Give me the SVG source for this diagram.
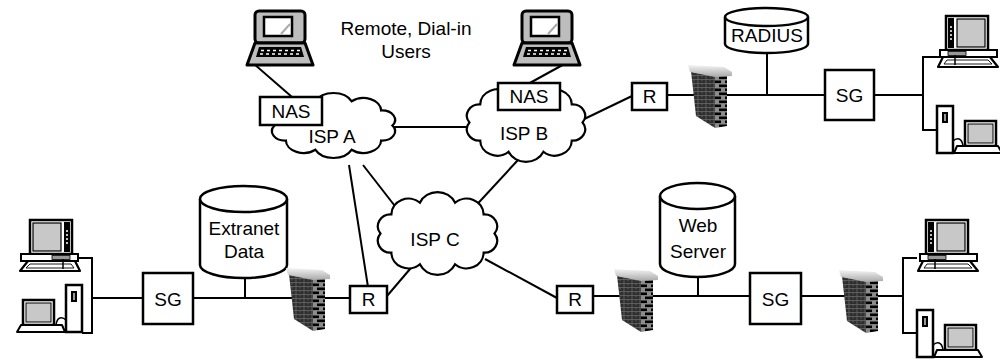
<svg xmlns="http://www.w3.org/2000/svg" xmlns:xlink="http://www.w3.org/1999/xlink" width="1000" height="360" viewBox="0 0 1000 360">
  <style>
    .ln { stroke:#000; stroke-width:2; fill:none; }
    .box { fill:#fff; stroke:#000; stroke-width:2.5; }
    .cyl { fill:#fff; stroke:#000; stroke-width:2.5; }
    .cloud { fill:#fff; stroke:#000; stroke-width:2.2; }
    .lbl { font-family:"Liberation Sans", Arial, sans-serif; font-size:19px; text-anchor:middle; fill:#000; }
  </style>
  <defs>
    <!-- brick textures for the firewall walls -->
    <pattern id="brickDark" width="8" height="4" patternUnits="userSpaceOnUse">
      <rect width="8" height="4" fill="#2e2e2e"/>
      <path d="M0 3.5H8M2 0V3.5M6 0V1.5" stroke="#7a7a7a" stroke-width="0.6"/>
    </pattern>
    <pattern id="brickSide" width="12" height="8" patternUnits="userSpaceOnUse">
      <rect width="12" height="8" fill="#8c8c8c"/>
      <rect x="1" y="0.5" width="8" height="2.6" fill="#000"/>
      <rect x="-5" y="4.5" width="8" height="2.6" fill="#000"/>
      <rect x="7" y="4.5" width="8" height="2.6" fill="#000"/>
    </pattern>
    <linearGradient id="capGrad" x1="0" y1="0" x2="0" y2="1">
      <stop offset="0" stop-color="#f4f4f4"/>
      <stop offset="1" stop-color="#a8a8a8"/>
    </linearGradient>

    <!-- firewall: brick wall with a capstone -->
    <g id="firewall">
      <polygon points="3,7 27,11 27,64 8,52" fill="url(#brickDark)"/>
      <polygon points="27,11 39,10 39,62 27,64" fill="url(#brickSide)"/>
      <polygon points="0,1 36,3 44,8 44,12 27,13 2,8" fill="url(#capGrad)"/>
    </g>

    <!-- cloud outline, centred on the origin -->
    <path id="cloudShape" vector-effect="non-scaling-stroke" d="M46 0 A10.3 10.3 0 0 1 37.2 16.5 A13.8 13.8 0 0 1 14.2 26.6 A15.6 15.6 0 0 1 -14.2 26.6 A13.8 13.8 0 0 1 -37.2 16.5 A10.3 10.3 0 0 1 -46 0 A10.3 10.3 0 0 1 -37.2 -16.5 A13.8 13.8 0 0 1 -14.2 -26.6 A15.6 15.6 0 0 1 14.2 -26.6 A13.8 13.8 0 0 1 37.2 -16.5 A10.3 10.3 0 0 1 46 0 Z"/>

    <!-- laptop -->
    <g id="laptop">
      <rect x="9" y="1" width="50" height="32" rx="4" fill="#bdbdbd" stroke="#000" stroke-width="3"/>
      <rect x="18" y="7" width="28" height="19" fill="#fff" stroke="#000" stroke-width="2.5"/>
      <path d="M44 14 L35 24" stroke="#aaa" stroke-width="2"/>
      <path d="M9 33 H59 L67 55 H1 Z" fill="#bdbdbd" stroke="#000" stroke-width="3" stroke-linejoin="round"/>
      <path d="M13 37 H55 L58 47 H10 Z" fill="#000"/>
      <path d="M15 40.5h3M21 40.5h3M27 40.5h3M33 40.5h3M39 40.5h3M45 40.5h3M51 40.5h3M14 44h3M20 44h3M26 44h3M32 44h3M38 44h3M44 44h3M50 44h3" stroke="#fff" stroke-width="1.6"/>
    </g>

    <!-- desktop workstation: monitor on base unit with keyboard -->
    <g id="desktop">
      <rect x="8" y="1" width="42" height="34" fill="#fff" stroke="#000" stroke-width="2.5"/>
      <rect x="10" y="3" width="6" height="30" fill="#000"/>
      <path d="M12 12h2M12 16h2M12 20h2M12 24h2" stroke="#fff" stroke-width="1.5"/>
      <rect x="19" y="4" width="28" height="28" fill="#c8c8c8" stroke="#000" stroke-width="1.2"/>
      <rect x="2" y="35" width="57" height="7" fill="#fff" stroke="#000" stroke-width="2"/>
      <rect x="10" y="36.5" width="18" height="4" fill="#999" stroke="#000" stroke-width="0.8"/>
      <path d="M5 42 H52 L60 52 H0 Z" fill="#fff" stroke="#000" stroke-width="2.2" stroke-linejoin="round"/>
      <path d="M9 45 H50 L54 49 H6 Z" fill="none" stroke="#000" stroke-width="0.9"/>
      <path d="M17 40 V50" stroke="#000" stroke-width="1.5"/>
    </g>

    <!-- tower PC with small monitor -->
    <g id="tower">
      <rect x="1" y="1" width="16" height="47" fill="#fff" stroke="#000" stroke-width="2.5"/>
      <rect x="6" y="7" width="6" height="11" fill="#000"/>
      <path d="M9 9 V16" stroke="#fff" stroke-width="1.2"/>
      <rect x="29" y="16" width="31" height="25" fill="#fff" stroke="#000" stroke-width="2.5"/>
      <rect x="32" y="19" width="25" height="19" fill="#c8c8c8" stroke="#000" stroke-width="1"/>
      <path d="M17 36 C21 32 26 33 27 41" fill="none" stroke="#000" stroke-width="1.5"/>
      <path d="M21 41 H62 L66 48 H18 Z" fill="#fff" stroke="#000" stroke-width="2" stroke-linejoin="round"/>
    </g>
  </defs>

  <rect width="1000" height="360" fill="#fff"/>

  <!-- links -->
  <g id="connectors">
    <line class="ln" x1="254" y1="64" x2="292" y2="97"/>
    <line class="ln" x1="568" y1="62" x2="528" y2="84"/>
    <line class="ln" x1="380" y1="127" x2="480" y2="127"/>
    <line class="ln" x1="578" y1="122" x2="632" y2="96"/>
    <line class="ln" x1="667" y1="95" x2="825" y2="95"/>
    <line class="ln" x1="767" y1="52" x2="767" y2="95"/>
    <polyline class="ln" points="874,95 923,95"/>
    <polyline class="ln" points="940,57 923,57 923,130 937,130"/>
    <line class="ln" x1="349" y1="165" x2="368" y2="287"/>
    <line class="ln" x1="363" y1="165" x2="398" y2="210"/>
    <line class="ln" x1="518" y1="160" x2="470" y2="212"/>
    <line class="ln" x1="387" y1="296" x2="416" y2="262"/>
    <line class="ln" x1="485" y1="259" x2="557" y2="298"/>
    <polyline class="ln" points="78,258 92,258 92,333 82,333"/>
    <line class="ln" x1="92" y1="298" x2="143" y2="298"/>
    <line class="ln" x1="193" y1="298" x2="350" y2="298"/>
    <line class="ln" x1="245" y1="277" x2="245" y2="298"/>
    <line class="ln" x1="593" y1="296" x2="750" y2="296"/>
    <line class="ln" x1="698" y1="276" x2="698" y2="296"/>
    <line class="ln" x1="801" y1="296" x2="903" y2="296"/>
    <polyline class="ln" points="917,258 903,258 903,333 917,333"/>
  </g>

  <text class="lbl" x="406" y="35">Remote, Dial-in</text>
  <text class="lbl" x="406" y="58">Users</text>

  <g id="isp-a">
    <use xlink:href="#cloudShape" class="cloud" transform="translate(333.5,125.5) scale(1.28,0.91)"/>
    <text class="lbl" x="332" y="143">ISP A</text>
  </g>
  <g id="isp-b">
    <use xlink:href="#cloudShape" class="cloud" transform="translate(526,122.5) scale(1.23,1.1)"/>
    <text class="lbl" x="524" y="140">ISP B</text>
  </g>
  <g id="isp-c">
    <use xlink:href="#cloudShape" class="cloud" transform="translate(437.5,233.5) scale(1.24,1.16)"/>
    <text class="lbl" x="435" y="246">ISP C</text>
  </g>

  <g id="laptop-a"><use xlink:href="#laptop" transform="translate(246,10)"/></g>
  <g id="laptop-b"><use xlink:href="#laptop" transform="translate(513,10)"/></g>

  <g id="nas-a">
    <rect class="box" x="260" y="97" width="62" height="28"/>
    <text class="lbl" x="291" y="118">NAS</text>
  </g>
  <g id="nas-b">
    <rect class="box" x="498" y="83" width="62" height="27"/>
    <text class="lbl" x="529" y="103">NAS</text>
  </g>

  <g id="router-b">
    <rect class="box" x="632" y="83" width="35" height="27"/>
    <text class="lbl" x="649.5" y="103">R</text>
  </g>
  <g id="firewall-1"><use xlink:href="#firewall" transform="translate(688,64)"/></g>
  <g id="radius">
    <path class="cyl" d="M725 17 A41.5 9 0 0 1 808 17 V44 A41.5 9 0 0 1 725 44 Z"/>
    <path class="cyl" d="M725 17 A41.5 9 0 0 0 808 17" fill="none"/>
    <text class="lbl" x="767" y="42">RADIUS</text>
  </g>
  <g id="sg-1">
    <rect class="box" x="825" y="70" width="49" height="50"/>
    <text class="lbl" x="849.5" y="102">SG</text>
  </g>
  <g id="desktop-1"><use xlink:href="#desktop" transform="translate(938,15)"/></g>
  <g id="tower-1"><use xlink:href="#tower" transform="translate(936,105)"/></g>

  <g id="desktop-2"><use xlink:href="#desktop" transform="translate(80,219) scale(-1,1)"/></g>
  <g id="tower-2"><use xlink:href="#tower" transform="translate(83,284) scale(-1,1)"/></g>
  <g id="sg-2">
    <rect class="box" x="143" y="273" width="50" height="51"/>
    <text class="lbl" x="168" y="306">SG</text>
  </g>
  <g id="extranet-data">
    <path class="cyl" d="M200 199 A43.5 13 0 0 1 287 199 V265 A43.5 13 0 0 1 200 265 Z"/>
    <path class="cyl" d="M200 199 A43.5 13 0 0 0 287 199" fill="none"/>
    <text class="lbl" x="244" y="235">Extranet</text>
    <text class="lbl" x="244" y="258">Data</text>
  </g>
  <g id="firewall-2"><use xlink:href="#firewall" transform="translate(286,267)"/></g>
  <g id="router-c1">
    <rect class="box" x="350" y="286" width="37" height="27"/>
    <text class="lbl" x="368.5" y="306">R</text>
  </g>

  <g id="router-c2">
    <rect class="box" x="557" y="286" width="36" height="27"/>
    <text class="lbl" x="575" y="306">R</text>
  </g>
  <g id="firewall-3"><use xlink:href="#firewall" transform="translate(614,268)"/></g>
  <g id="web-server">
    <path class="cyl" d="M660 196 A37.5 13 0 0 1 735 196 V264 A37.5 13 0 0 1 660 264 Z"/>
    <path class="cyl" d="M660 196 A37.5 13 0 0 0 735 196" fill="none"/>
    <text class="lbl" x="698" y="232">Web</text>
    <text class="lbl" x="698" y="258">Server</text>
  </g>
  <g id="sg-3">
    <rect class="box" x="750" y="273" width="51" height="51"/>
    <text class="lbl" x="775.5" y="306">SG</text>
  </g>
  <g id="firewall-4"><use xlink:href="#firewall" transform="translate(839,269)"/></g>
  <g id="desktop-3"><use xlink:href="#desktop" transform="translate(918,219)"/></g>
  <g id="tower-3"><use xlink:href="#tower" transform="translate(916,309)"/></g>
</svg>
